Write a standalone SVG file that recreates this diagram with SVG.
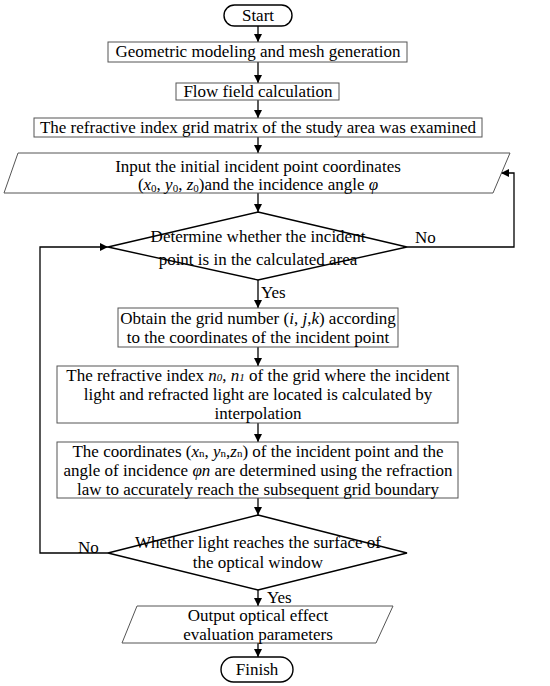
<svg xmlns="http://www.w3.org/2000/svg" width="550" height="686" viewBox="0 0 550 686">
<defs>
<marker id="ah" markerWidth="8" markerHeight="8" viewBox="0 0 10 10" refX="10" refY="5" orient="auto" markerUnits="userSpaceOnUse">
<path d="M0,0 L10,5 L0,10 z" fill="#000"/>
</marker>
<style>
text{font-family:"Liberation Serif","Times New Roman",serif;font-size:17px;fill:#000;text-anchor:middle}
.lab{text-anchor:start}
.box{fill:#fff;stroke:#555;stroke-width:1}
.dia{fill:#fff;stroke:#000;stroke-width:1.4}
.term{fill:#fff;stroke:#000;stroke-width:1.4}
.con{fill:none;stroke:#000;stroke-width:1.3;marker-end:url(#ah)}
.it{font-style:italic}
.sub{font-size:11px}
</style>
</defs>
<rect width="550" height="686" fill="#fff"/>
<g id="connectors">
<line class="con" x1="258" y1="26" x2="258" y2="42"/>
<line class="con" x1="258" y1="62" x2="258" y2="83"/>
<line class="con" x1="258" y1="100" x2="258" y2="118"/>
<line class="con" x1="258" y1="137" x2="258" y2="153"/>
<line class="con" x1="258" y1="193" x2="258" y2="212"/>
<line class="con" x1="258" y1="280" x2="258" y2="308"/>
<line class="con" x1="258" y1="347" x2="258" y2="366"/>
<line class="con" x1="258" y1="423" x2="258" y2="442"/>
<line class="con" x1="258" y1="498" x2="258" y2="515"/>
<line class="con" x1="258" y1="590" x2="258" y2="606"/>
<line class="con" x1="258" y1="643" x2="258" y2="657"/>
<polyline class="con" points="407,247 514,247 514,173 501,173"/>
<polyline class="con" points="108,553 40,553 40,247 108,247"/>
<text class="lab" x="415" y="243">No</text>
<text class="lab" x="261" y="298">Yes</text>
<text class="lab" x="78" y="553">No</text>
<text class="lab" x="267" y="603">Yes</text>
</g>
<g id="start">
<rect class="term" x="224" y="5" width="68" height="21" rx="10.5"/>
<text x="258" y="21">Start</text>
</g>
<g id="mesh">
<rect class="box" x="108" y="42" width="299" height="20"/>
<text x="258" y="57">Geometric modeling and mesh generation</text>
</g>
<g id="flow">
<rect class="box" x="176" y="83" width="163" height="17"/>
<text x="258" y="97">Flow field calculation</text>
</g>
<g id="grid">
<rect class="box" x="34" y="118" width="448" height="19"/>
<text x="258" y="133">The refractive index grid matrix of the study area was examined</text>
</g>
<g id="input">
<polygon class="box" points="18,153 510,153 493,193 4,193"/>
<text x="258" y="172">Input the initial incident point coordinates</text>
<text x="258" y="190">(<tspan class="it">x</tspan><tspan class="sub" dy="2">0</tspan><tspan dy="-2">, </tspan><tspan class="it">y</tspan><tspan class="sub" dy="2">0</tspan><tspan dy="-2">, </tspan><tspan class="it">z</tspan><tspan class="sub" dy="2">0</tspan><tspan dy="-2">)and the incidence angle </tspan><tspan class="it">φ</tspan></text>
</g>
<g id="decision1">
<polygon class="dia" points="258,212 407,247 258,280 108,247"/>
<text x="258" y="242">Determine whether the incident</text>
<text x="258" y="265">point is in the calculated area</text>
</g>
<g id="gridnum">
<rect class="box" x="118" y="308" width="280" height="39"/>
<text x="258" y="324">Obtain the grid number (<tspan class="it">i</tspan>, <tspan class="it">j</tspan>,<tspan class="it">k</tspan>) according</text>
<text x="258" y="343">to the coordinates of the incident point</text>
</g>
<g id="interp">
<rect class="box" x="57" y="366" width="401" height="57"/>
<text x="258" y="381">The refractive index <tspan class="it">n</tspan><tspan class="sub it">0</tspan>, <tspan class="it">n</tspan><tspan class="sub it">1</tspan> of the grid where the incident</text>
<text x="258" y="400">light and refracted light are located is calculated by</text>
<text x="258" y="419">interpolation</text>
</g>
<g id="refract">
<rect class="box" x="57" y="442" width="401" height="56"/>
<text x="258" y="457">The coordinates (<tspan class="it">x</tspan><tspan class="sub">n</tspan>, <tspan class="it">y</tspan><tspan class="sub">n</tspan>,<tspan class="it">z</tspan><tspan class="sub">n</tspan>) of the incident point and the</text>
<text x="258" y="476">angle of incidence <tspan class="it">φn</tspan> are determined using the refraction</text>
<text x="258" y="495">law to accurately reach the subsequent grid boundary</text>
</g>
<g id="decision2">
<polygon class="dia" points="258,515 407,553 258,590 108,553"/>
<text x="258" y="548">Whether light reaches the surface of</text>
<text x="258" y="568">the optical window</text>
</g>
<g id="output">
<polygon class="box" points="137,606 393,606 376,643 122,643"/>
<text x="258" y="621">Output optical effect</text>
<text x="258" y="640">evaluation parameters</text>
</g>
<g id="finish">
<rect class="term" x="221" y="657" width="72" height="25" rx="12.5"/>
<text x="257" y="675">Finish</text>
</g>
</svg>
